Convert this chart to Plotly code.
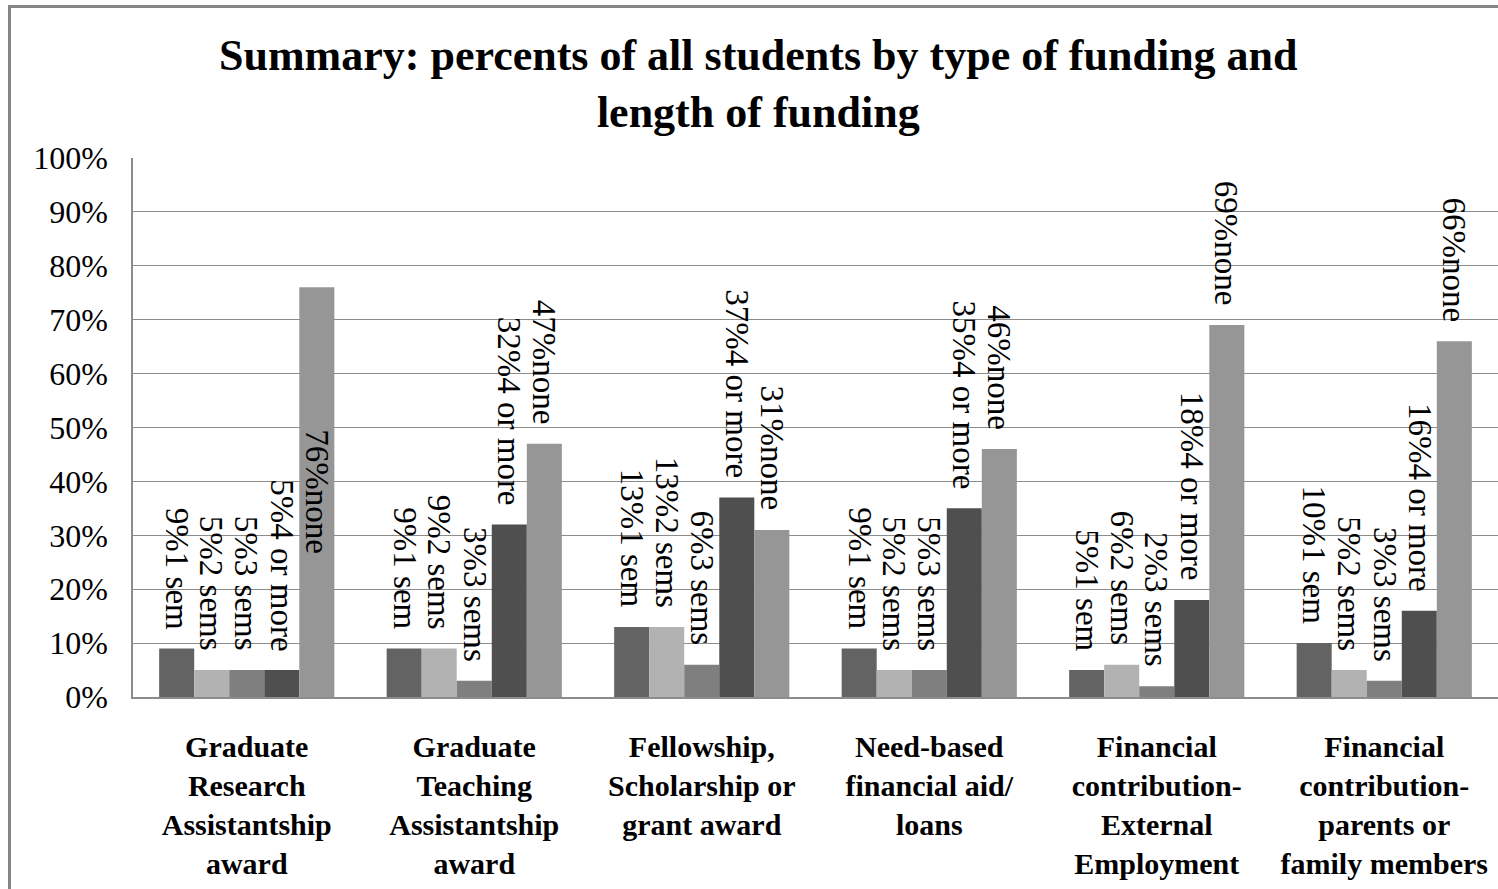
import plotly.graph_objects as go

# Funding categories (x axis)
categories = [
    "Graduate<br>Research<br>Assistantship<br>award",
    "Graduate<br>Teaching<br>Assistantship<br>award",
    "Fellowship,<br>Scholarship or<br>grant award",
    "Need-based<br>financial aid/<br>loans",
    "Financial<br>contribution-<br>External<br>Employment",
    "Financial<br>contribution-<br>parents or<br>family members",
]

# Length of funding (series)
series_names = ["1 sem", "2 sems", "3 sems", "4 or more", "none"]

# Percent of all students, per series, in category order
one_sem = [9, 9, 13, 9, 5, 10]
two_sems = [5, 9, 13, 5, 6, 5]
three_sems = [5, 3, 6, 5, 2, 3]
four_or_more = [5, 32, 37, 35, 18, 16]
none = [76, 47, 31, 46, 69, 66]

series_values = [one_sem, two_sems, three_sems, four_or_more, none]
series_colors = ["#636363", "#b2b2b2", "#7f7f7f", "#4f4f4f", "#969696"]

W, H = 1498, 889
ML, MR, MT, MB = 133, 0, 158, 192
PW, PH = W - ML - MR, H - MT - MB

BARGAP = 0.23
n_series = len(series_names)
bar_w = (1 - BARGAP) / n_series

SERIF = "Liberation Serif, Times New Roman, serif"
LABEL_SIZE = 33

fig = go.Figure()
for name, vals, col in zip(series_names, series_values, series_colors):
    fig.add_trace(go.Bar(
        name=name, x=categories, y=vals,
        marker=dict(color=col, line=dict(width=0)),
        showlegend=False,
    ))

# Rotated value labels above each bar; a label that would run past the
# top of the axis is centred inside its bar instead.
label_len_pct = 26
annotations = []
for i, (name, vals) in enumerate(zip(series_names, series_values)):
    for j, v in enumerate(vals):
        text = f"{v}%{name}"
        xpos = j + (i - (n_series - 1) / 2) * bar_w
        if v + 3 + label_len_pct > 100:
            annotations.append(dict(
                x=xpos, y=v / 2, xref="x", yref="y", text=text,
                textangle=90, showarrow=False, xanchor="center", yanchor="middle",
                font=dict(family=SERIF, size=LABEL_SIZE, color="black"),
            ))
        else:
            annotations.append(dict(
                x=xpos, y=v, xref="x", yref="y", text=text,
                textangle=90, showarrow=False, xanchor="center", yanchor="bottom",
                yshift=17,
                font=dict(family=SERIF, size=LABEL_SIZE, color="black"),
            ))

# Two-line chart title
annotations.append(dict(
    xref="paper", yref="paper",
    x=(758 - ML) / PW, y=(H - MB - 29) / PH,
    xanchor="center", yanchor="top", showarrow=False,
    text="<b>Summary: percents of all students by type of funding and<br>length of funding</b>",
    font=dict(family=SERIF, size=44, color="black"),
))

# Outer chart frame (extends past the right and bottom edges)
def px_x(p):
    return (p - ML) / PW

def px_y(p):
    return (H - MB - p) / PH

shapes = [dict(
    type="rect", xref="paper", yref="paper",
    x0=px_x(9.5), x1=px_x(1520), y0=px_y(6.5), y1=px_y(920),
    line=dict(color="#858585", width=3), fillcolor="rgba(0,0,0,0)", layer="below",
)]

fig.update_layout(
    width=W, height=H,
    margin=dict(l=ML, r=MR, t=MT, b=MB, pad=0),
    paper_bgcolor="white", plot_bgcolor="white",
    barmode="group", bargap=BARGAP, bargroupgap=0,
    font=dict(family=SERIF, color="black"),
    annotations=annotations,
    shapes=shapes,
)

fig.update_xaxes(
    showline=True, linecolor="#8c8c8c", linewidth=1.5,
    tickfont=dict(family=SERIF, size=30, color="black"),
    ticks="", ticklabelstandoff=22,
    tickprefix="<b>", ticksuffix="</b>",
)
fig.update_yaxes(
    range=[0, 100], dtick=10, ticksuffix="%",
    showline=True, linecolor="#8c8c8c", linewidth=1.5,
    showgrid=True, gridcolor="#8c8c8c", gridwidth=1.2,
    tickfont=dict(family=SERIF, size=32, color="black"),
    ticks="", ticklabelstandoff=17, zeroline=False,
)

fig.write_html("out.html")
